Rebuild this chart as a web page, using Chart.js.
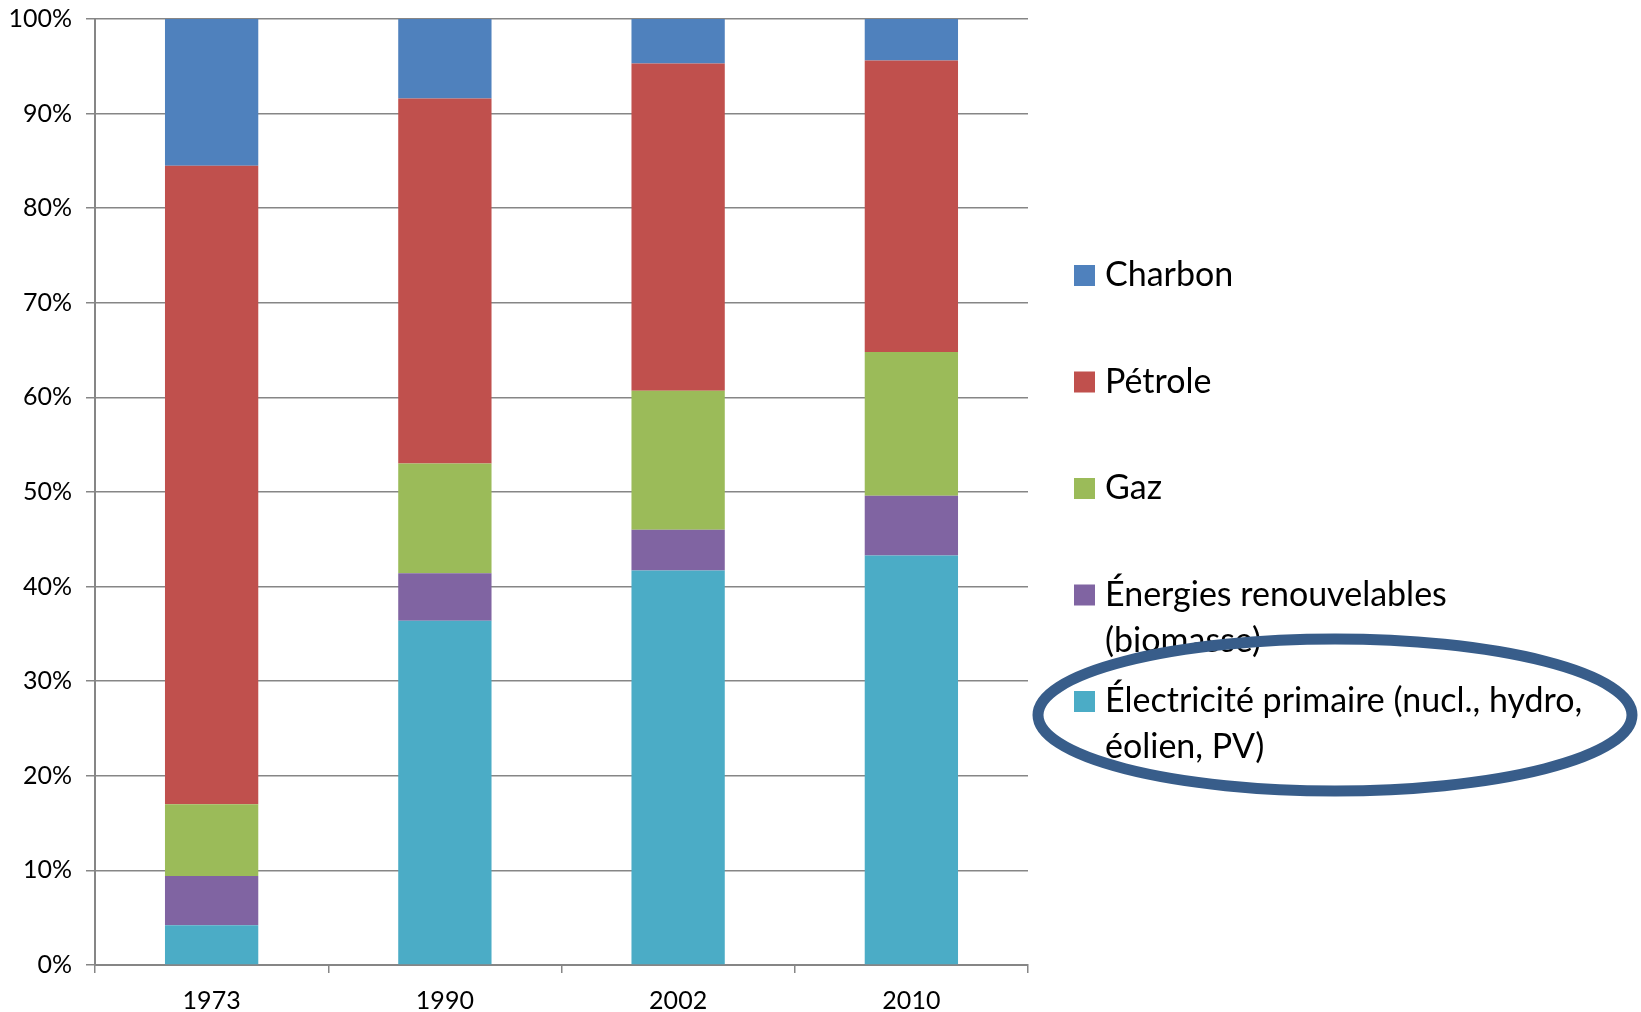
<!DOCTYPE html>
<html>
	<head>
		<meta charset="UTF-8" />
		<title>Chart</title>
		<style type="text/css">
body { margin: 0; background: #fff; }
.chartBox { width: 1641px; height: 1012px; }
		</style>
	</head>
	<body>
		<script src="https://cdn.jsdelivr.net/npm/chart.js@4/dist/chart.umd.min.js"></script>
		<div class="chartBox">
			<canvas id="myChart" width="1641" height="1012"></canvas>
		</div>
		<script charset="utf-8">
			// data, in % of the total, bottom of the stack first
			const years = ['1973', '1990', '2002', '2010'];
			const electricite = [4.2, 36.4, 41.7, 43.3];
			const renouvelables = [5.2, 5.0, 4.3, 6.3];
			const gaz = [7.6, 11.6, 14.7, 15.2];
			const petrole = [67.5, 38.6, 34.6, 30.8];
			const charbon = [15.5, 8.4, 4.7, 4.4];
			const seriesNames = [
							['Électricité primaire (nucl., hydro,', 'éolien, PV)'],
							['Énergies renouvelables', '(biomasse)'],
							['Gaz'],
							['Pétrole'],
							['Charbon']
						];
			const seriesColors = ['#4BACC6', '#8064A2', '#9BBB59', '#C0504D', '#4F81BD'];
			const yTicks = [0, 10, 20, 30, 40, 50, 60, 70, 80, 90, 100];

			const FONT = 'Lato, "Open Sans", sans-serif';
			const seriesValues = [electricite, renouvelables, gaz, petrole, charbon];

			// legend on the right (reverse order) plus the hand drawn ellipse
			const sideLegend = {
							id: 'sideLegend',
							afterDraw(chart) {
											const ctx = chart.ctx;
											const ds = chart.data.datasets;
											let base = 286;
											ctx.save();
											ctx.font = '34px ' + FONT;
											ctx.textBaseline = 'alphabetic';
											for (let i = ds.length - 1; i >= 0; i--) {
															ctx.fillStyle = ds[i].backgroundColor;
															ctx.fillRect(1074, base - 21, 21, 21);
															ctx.fillStyle = '#000';
															ds[i].lines.forEach((line, k) => {
																			ctx.fillText(line, 1105, base + k * 46);
																		});
															base += 106.5;
														}
											ctx.beginPath();
											ctx.ellipse(1335, 715, 297, 76, 0, 0, Math.PI * 2);
											ctx.lineWidth = 11;
											ctx.strokeStyle = '#385D8A';
											ctx.stroke();
											ctx.restore();
										}
						};

			const data = {
							labels: years,
							datasets: seriesValues.map((vals, i) => ({
											label: seriesNames[i].join(' '),
											lines: seriesNames[i],
											data: vals,
											backgroundColor: seriesColors[i],
											borderWidth: 0,
											categoryPercentage: 1,
											barPercentage: 0.4
										}))
						};

			const config = {
							type: 'bar',
							data,
							plugins: [sideLegend],
							options: {
											responsive: false,
											animation: false,
											devicePixelRatio: 1,
											layout: { padding: { top: 19, right: 613, bottom: 0, left: 0 } },
											plugins: {
															legend: { display: false },
															tooltip: { enabled: false }
														},
											scales: {
															x: {
																			stacked: true,
																			afterFit: scale => {
																							scale.height = 47;
																							scale.paddingLeft = 0;
																							scale.paddingRight = 0;
																						},
																			grid: {
																							offset: true,
																							drawOnChartArea: false,
																							color: '#868686',
																							lineWidth: 1.5,
																							tickLength: 8
																						},
																			border: { color: '#868686', width: 2 },
																			ticks: {
																							color: '#000',
																							font: { family: FONT, size: 25 },
																							padding: 13
																						}
																		},
															y: {
																			stacked: true,
																			min: 0,
																			max: 100,
																			afterFit: scale => {
																							scale.width = 95;
																							scale.paddingTop = 0;
																							scale.paddingBottom = 0;
																						},
																			afterBuildTicks: scale => {
																							scale.ticks = yTicks.map(v => ({ value: v }));
																						},
																			grid: {
																							color: '#868686',
																							lineWidth: 1.5,
																							tickLength: 9
																						},
																			border: { color: '#868686', width: 2 },
																			ticks: {
																							color: '#000',
																							font: { family: FONT, size: 25 },
																							padding: 14,
																							callback: v => v + '%'
																						}
																		}
														}
										}
						};

			var ctx = document.getElementById('myChart').getContext('2d');
			var myChart = new Chart(ctx, config);
		</script>
	</body>
</html>
